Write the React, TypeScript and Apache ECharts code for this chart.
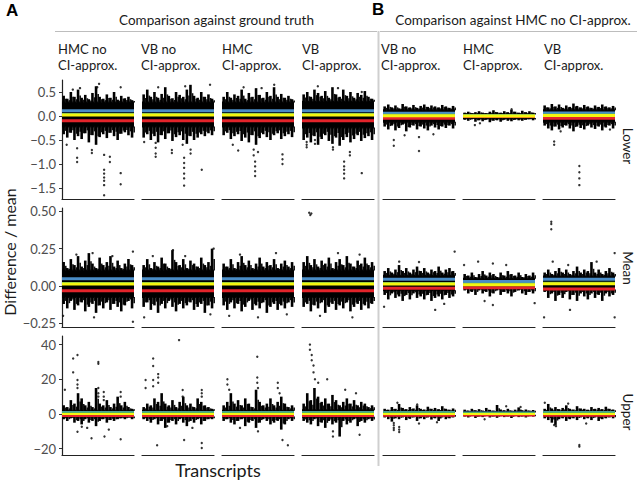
import React, { useEffect, useRef } from 'react';
import * as echarts from 'echarts';

// ---------- data ----------
const columnTitles: string[] = [
  'HMC no\nCI-approx.',
  'VB no\nCI-approx.',
  'HMC\nCI-approx.',
  'VB\nCI-approx.',
  'VB no\nCI-approx.',
  'HMC\nCI-approx.',
  'VB\nCI-approx.',
];
const rowNames = ['Lower', 'Mean', 'Upper'];
const lowerTicks = [0.5, 0, -0.5, -1, -1.5];
const meanTicks = [0.5, 0.25, 0, -0.25];
const upperTicks = [40, 20, 0, -20];

// solid core of the point cloud per panel: [bottom, top]
const lowerCore = [[-0.24, 0.3], [-0.24, 0.3], [-0.24, 0.3], [-0.26, 0.32], [-0.14, 0.14], [-0.06, 0.05], [-0.14, 0.14]];
const meanCore = [[-0.08, 0.11], [-0.08, 0.11], [-0.08, 0.11], [-0.08, 0.11], [-0.035, 0.075], [-0.02, 0.055], [-0.03, 0.07]];
const upperCore = [[-2, 2.5], [-2, 2.5], [-2, 2.5], [-2.2, 2.8], [-1.2, 1.8], [-1, 1.4], [-1.2, 1.8]];

// streaks of points above / below the core (20 bins per panel)
const lowerTop = [
  [0.42, 0.36, 0.5, 0.4, 0.55, 0.38, 0.44, 0.35, 0.48, 0.62, 0.4, 0.36, 0.45, 0.38, 0.5, 0.34, 0.42, 0.37, 0.4, 0.33],
  [0.45, 0.55, 0.4, 0.5, 0.38, 0.46, 0.6, 0.42, 0.37, 0.5, 0.44, 0.4, 0.55, 0.65, 0.42, 0.38, 0.5, 0.4, 0.45, 0.36],
  [0.4, 0.5, 0.38, 0.45, 0.42, 0.55, 0.36, 0.48, 0.4, 0.58, 0.44, 0.38, 0.5, 0.42, 0.6, 0.4, 0.46, 0.38, 0.42, 0.35],
  [0.45, 0.5, 0.4, 0.55, 0.48, 0.42, 0.52, 0.38, 0.6, 0.45, 0.4, 0.55, 0.42, 0.5, 0.38, 0.48, 0.44, 0.52, 0.4, 0.36],
  [0.2, 0.24, 0.18, 0.22, 0.16, 0.25, 0.2, 0.18, 0.23, 0.17, 0.21, 0.24, 0.19, 0.22, 0.2, 0.18, 0.23, 0.2, 0.17, 0.21],
  [0.07, 0.09, 0.06, 0.08, 0.1, 0.07, 0.06, 0.09, 0.12, 0.08, 0.07, 0.1, 0.08, 0.13, 0.09, 0.07, 0.11, 0.08, 0.1, 0.07],
  [0.22, 0.18, 0.25, 0.2, 0.24, 0.17, 0.22, 0.19, 0.26, 0.21, 0.18, 0.23, 0.2, 0.17, 0.22, 0.19, 0.24, 0.2, 0.18, 0.21],
];
const lowerBot = [
  [-0.38, -0.45, -0.35, -0.5, -0.42, -0.48, -0.36, -0.55, -0.4, -0.6, -0.44, -0.38, -0.46, -0.35, -0.42, -0.5, -0.37, -0.34, -0.4, -0.45],
  [-0.45, -0.38, -0.5, -0.42, -0.55, -0.4, -0.48, -0.36, -0.52, -0.44, -0.4, -0.5, -0.58, -0.42, -0.5, -0.45, -0.38, -0.42, -0.36, -0.4],
  [-0.4, -0.35, -0.48, -0.42, -0.38, -0.52, -0.45, -0.55, -0.4, -0.6, -0.46, -0.38, -0.44, -0.5, -0.4, -0.36, -0.48, -0.42, -0.38, -0.44],
  [-0.5, -0.45, -0.55, -0.42, -0.6, -0.48, -0.4, -0.52, -0.58, -0.45, -0.62, -0.5, -0.44, -0.55, -0.48, -0.4, -0.52, -0.46, -0.42, -0.5],
  [-0.22, -0.28, -0.2, -0.3, -0.25, -0.18, -0.32, -0.24, -0.2, -0.28, -0.22, -0.26, -0.3, -0.2, -0.24, -0.28, -0.22, -0.25, -0.2, -0.26],
  [-0.08, -0.1, -0.07, -0.12, -0.09, -0.11, -0.08, -0.13, -0.1, -0.09, -0.12, -0.08, -0.1, -0.11, -0.08, -0.09, -0.1, -0.08, -0.07, -0.09],
  [-0.2, -0.26, -0.3, -0.22, -0.28, -0.24, -0.2, -0.26, -0.32, -0.22, -0.25, -0.28, -0.2, -0.24, -0.27, -0.22, -0.3, -0.24, -0.2, -0.26],
];
const meanTop = [
  [0.16, 0.12, 0.18, 0.14, 0.2, 0.13, 0.17, 0.22, 0.15, 0.12, 0.19, 0.14, 0.16, 0.2, 0.13, 0.17, 0.12, 0.15, 0.18, 0.14],
  [0.14, 0.18, 0.12, 0.16, 0.13, 0.19, 0.15, 0.12, 0.24, 0.16, 0.14, 0.18, 0.12, 0.17, 0.15, 0.13, 0.19, 0.14, 0.16, 0.25],
  [0.15, 0.13, 0.18, 0.12, 0.16, 0.2, 0.14, 0.17, 0.12, 0.15, 0.19, 0.13, 0.16, 0.14, 0.18, 0.12, 0.15, 0.17, 0.13, 0.16],
  [0.16, 0.2, 0.14, 0.18, 0.13, 0.17, 0.15, 0.19, 0.12, 0.16, 0.18, 0.14, 0.2, 0.15, 0.13, 0.17, 0.15, 0.19, 0.14, 0.16],
  [0.1, 0.12, 0.09, 0.11, 0.14, 0.1, 0.12, 0.09, 0.11, 0.13, 0.1, 0.12, 0.09, 0.11, 0.1, 0.13, 0.09, 0.11, 0.12, 0.1],
  [0.08, 0.07, 0.09, 0.06, 0.08, 0.1, 0.07, 0.09, 0.08, 0.06, 0.09, 0.07, 0.1, 0.08, 0.07, 0.09, 0.06, 0.08, 0.07, 0.09],
  [0.09, 0.11, 0.08, 0.1, 0.12, 0.09, 0.11, 0.08, 0.1, 0.13, 0.09, 0.11, 0.1, 0.16, 0.09, 0.11, 0.08, 0.1, 0.12, 0.09],
];
const meanBot = [
  [-0.12, -0.15, -0.1, -0.16, -0.13, -0.11, -0.17, -0.14, -0.12, -0.18, -0.13, -0.15, -0.11, -0.16, -0.12, -0.14, -0.17, -0.13, -0.1, -0.15],
  [-0.14, -0.11, -0.16, -0.13, -0.18, -0.12, -0.15, -0.1, -0.14, -0.17, -0.12, -0.15, -0.13, -0.11, -0.16, -0.14, -0.12, -0.18, -0.13, -0.15],
  [-0.13, -0.16, -0.11, -0.15, -0.12, -0.17, -0.14, -0.1, -0.16, -0.13, -0.15, -0.11, -0.18, -0.14, -0.12, -0.16, -0.13, -0.15, -0.11, -0.14],
  [-0.14, -0.12, -0.17, -0.13, -0.15, -0.11, -0.18, -0.14, -0.12, -0.16, -0.13, -0.15, -0.11, -0.17, -0.14, -0.12, -0.16, -0.13, -0.15, -0.12],
  [-0.06, -0.09, -0.05, -0.08, -0.07, -0.1, -0.06, -0.09, -0.05, -0.08, -0.07, -0.09, -0.06, -0.1, -0.08, -0.07, -0.09, -0.06, -0.08, -0.07],
  [-0.03, -0.05, -0.04, -0.06, -0.03, -0.05, -0.04, -0.07, -0.05, -0.03, -0.06, -0.04, -0.05, -0.07, -0.04, -0.03, -0.05, -0.06, -0.04, -0.05],
  [-0.04, -0.08, -0.05, -0.1, -0.06, -0.08, -0.04, -0.09, -0.06, -0.1, -0.05, -0.07, -0.09, -0.05, -0.08, -0.06, -0.1, -0.05, -0.07, -0.06],
];
const upperTop = [
  [5, 4, 8, 6, 12, 9, 5, 7, 4, 15, 6, 5, 8, 4, 6, 10, 5, 7, 4, 3],
  [4, 6, 5, 9, 7, 12, 6, 5, 8, 4, 7, 10, 5, 6, 4, 9, 7, 5, 4, 3],
  [5, 7, 12, 6, 8, 5, 9, 6, 4, 14, 7, 5, 6, 9, 5, 7, 10, 6, 4, 5],
  [6, 12, 8, 15, 10, 7, 9, 6, 11, 8, 5, 7, 9, 6, 8, 5, 7, 6, 4, 5],
  [3, 2.5, 4, 3, 5.8, 3.5, 2.8, 4, 3.2, 5, 3, 2.6, 4.2, 3, 3.5, 2.8, 4.5, 3, 2.5, 3.2],
  [2.5, 2, 3, 2.2, 2.8, 2, 3.5, 2.4, 2, 5.2, 2.6, 2.2, 3, 2, 2.5, 3.8, 2.2, 2.6, 2, 2.3],
  [3, 5.8, 3.2, 4, 2.8, 3.5, 5, 3, 2.6, 4.5, 3.2, 3, 2.5, 4, 3, 3.5, 2.8, 4.2, 3, 2.6],
];
const upperBot = [
  [-3, -4, -2.5, -5, -4, -6, -3, -5, -4, -7, -4, -3, -5, -3.5, -4, -3, -2.5, -3, -2, -3],
  [-3, -4, -5, -3, -6, -4, -8, -5, -4, -6, -3, -5, -7, -4, -5, -3, -6, -4, -3, -3],
  [-4, -3, -5, -6, -4, -3, -7, -5, -4, -8, -5, -3, -4, -6, -5, -4, -9, -6, -3, -4],
  [-4, -5, -6, -3, -7, -5, -8, -4, -6, -5, -13, -4, -6, -5, -3, -7, -4, -5, -3, -4],
  [-2, -3, -4.4, -2.5, -3, -2, -3.5, -2.8, -2, -4, -2.5, -3, -2, -3.2, -2.5, -4, -2, -3, -2.5, -2],
  [-1.5, -2, -1.2, -2.3, -1.5, -1.8, -1.2, -2, -1.5, -2.2, -1.3, -1.8, -1.5, -2.3, -1.2, -1.8, -1.5, -2, -1.3, -1.5],
  [-2.5, -3.5, -5, -6.3, -3, -2.5, -4, -3, -2.5, -3.5, -2, -3, -2.5, -3.5, -2, -4, -3, -2.5, -2, -2.5],
];

// individual outlying transcripts: [bin position, value]
const lowerOut: number[][][] = [
  [[1.3, -0.6], [4.2, -0.67], [4.2, -0.87], [4.2, -0.96], [8.3, -0.71], [8.3, -0.77], [11.7, -0.81], [11.7, -1.12], [11.7, -1.2], [11.7, -1.28], [11.7, -1.35], [11.7, -1.44], [11.7, -1.65], [13.3, -0.85], [13.3, -0.96], [16.3, -1.19], [16.3, -1.42], [10.3, 0.67], [5, 0.58], [16.3, 0.6], [3, 0.55], [9.8, 0.6]],
  [[0.6, -0.54], [3.8, -0.56], [3.8, -0.66], [3.8, -0.78], [3.8, -0.85], [8.3, -0.71], [8.3, -0.77], [11.3, -0.6], [11.7, -0.87], [11.7, -0.98], [11.7, -1.08], [11.7, -1.2], [11.7, -1.3], [11.7, -1.45], [13.5, -0.7], [13.5, -0.78], [16.6, -1.12], [18.9, 0.65], [4.5, 0.6], [12, 0.62]],
  [[3, -0.6], [4.5, -0.72], [8.8, -0.7], [8.8, -0.82], [9.2, -0.95], [9.2, -1.05], [9.2, -1.15], [9.2, -1.25], [10, -0.75], [16.8, -0.8], [16.8, -0.9], [16.8, -1.0], [6, 0.6], [14.5, 0.65], [11, 0.58]],
  [[1.3, -0.54], [1.3, -0.6], [1.3, -0.65], [3.6, -0.5], [3.6, -0.58], [8.6, -0.65], [8.6, -0.7], [11.7, -0.95], [11.7, -1.05], [11.7, -1.12], [11.7, -1.2], [11.7, -1.3], [13.3, -0.75], [13.3, -0.82], [16.6, -1.19], [4.4, 0.62], [16.6, 0.5], [10, 0.58]],
  [[3, -0.5], [3, -0.62], [10, -0.44], [10, -0.73], [6, -0.4], [14, -0.38]],
  [[3.3, -0.19], [4.7, -0.15], [13.5, 0.14]],
  [[3.1, -0.53], [3.1, -0.6], [10.1, -1.04], [10.1, -1.17], [10.1, -1.3], [10.1, -1.44], [4.9, -0.32], [18.6, -0.28]],
];
const meanOut: number[][][] = [
  [[0.3, -0.2], [8.9, -0.21], [19.7, -0.24], [19.7, 0.23], [8.5, 0.22], [4, 0.21], [14, 0.2]],
  [[0.6, -0.21], [19, -0.19], [8.6, 0.24], [19.9, 0.25], [3, 0.2], [12, 0.2]],
  [[2, -0.2], [10, -0.21], [15, 0.22], [5, 0.21], [18, -0.19]],
  [[2, 0.49], [2.3, 0.475], [2.6, 0.485], [10, 0.22], [16, 0.21], [5, -0.2], [14, -0.21]],
  [[4.5, 0.163], [19.9, 0.23], [0.3, -0.139], [14.5, -0.16], [10, 0.16], [17, -0.12]],
  [[0.3, 0.14], [4.2, 0.163], [8.3, 0.15], [8.3, -0.127], [19.9, -0.115], [12, 0.14], [6, -0.1]],
  [[2.3, 0.43], [2.3, 0.415], [2.3, 0.38], [2.7, 0.163], [14.9, 0.163], [0.3, -0.21], [19.9, 0.22], [19.9, -0.21], [7.5, -0.16], [7, 0.14]],
];
const upperOut: number[][][] = [
  [[0.8, 14], [3.1, 32], [3.1, 24], [4.3, 34], [4.3, 19.6], [4.3, 17], [4.3, 15], [10.1, 30], [10.1, 29], [10.1, 15], [10.1, 12], [10.1, 10], [11.6, 12.7], [11.6, 10], [11.6, 8], [16.3, 12.7], [16.3, 10], [8.2, -14], [11.8, -13], [16.3, -14.6], [4.3, -10.2], [5.5, -7.3], [7, -8], [13, -9]],
  [[10.3, 42.6], [3.1, 32], [3.1, 27.7], [3.1, 19.6], [3.1, 16], [4.5, 23], [4.5, 21], [4.5, 18], [1, 19.6], [1, 15], [11.3, 13.8], [11.3, 10], [16.6, 13.8], [16.6, 12], [16.6, 10], [4.2, -18], [11.7, -15], [16.6, -16.7], [16.6, -19.6], [7, -7], [14, -8]],
  [[1.5, 20], [1.5, 17], [2, 14], [9.8, 33], [9.8, 21], [9.8, 18], [10, 15], [15.5, 18], [15.5, 15], [16, 12], [18.3, -18], [16.8, -15], [10, -10], [5, -8]],
  [[2.2, 40], [2.2, 37], [2.7, 34], [2.7, 31], [3.2, 28], [3.2, 24], [3.6, 20], [4.5, 18], [7, 20], [8.6, -13], [8.6, -10], [16, -12], [12, 14], [15, 12]],
  [[3, -5.2], [3, -6.5], [3, -8], [3, -9.2], [4.5, -7.5], [4.5, -9], [4.5, -10.4], [10, -5.5], [15, -4.8], [4, 6.5], [9.5, 5.5]],
  [[12, 4.5], [16, 4], [6, -3]],
  [[3.1, -6.3], [3.6, -7], [10.1, -17.9], [10.1, -18.8], [0.5, 6.5], [7, 6], [12, -5.5]],
];

// reference lines per panel: [blue, green, yellow, red]
const lowerLines = [
  [0.11, 0.032, 0.02, -0.1], [0.11, 0.032, 0.02, -0.1], [0.11, 0.032, 0.02, -0.1], [0.11, 0.032, 0.02, -0.1],
  [0.056, 0.016, 0.006, -0.048], [0.012, 0.006, 0.0, -0.012], [0.06, 0.02, 0.01, -0.045],
];
const meanLines = [
  [0.049, 0.017, 0.013, -0.032], [0.049, 0.017, 0.013, -0.032], [0.049, 0.017, 0.013, -0.032], [0.049, 0.017, 0.013, -0.032],
  [0.045, 0.017, 0.013, -0.016], [0.03, 0.012, 0.008, -0.012], [0.045, 0.019, 0.015, -0.02],
];
const upperLines = [
  [1.2, 0.9, 0, -1.2], [1.2, 0.9, 0, -1.2], [1.2, 0.9, 0, -1.2], [1.2, 0.9, 0, -1.2],
  [1.1, 0.8, 0, -1.0], [0.8, 0.6, 0, -0.8], [1.1, 0.8, 0, -1.0],
];

// ---------- layout ----------
const NBINS = 20;
const colLeft = [62, 142, 222, 302, 383, 463, 543];
const rowTop = [80, 208, 336];
const PW = 72;
const PH = 119;
const yMin = [-1.729, -0.2746, -23.63];
const yMax = [0.75, 0.522, 44.96];
const lineColors = ['#4a8cc6', '#4fb06a', '#f5f510', '#e3242b'];
const FONT = 'Lato, "Open Sans", sans-serif';

const fmt = (r: number) => (v: number) => {
  let s = r === 0 ? v.toFixed(1) : r === 1 ? v.toFixed(2) : String(Math.round(v));
  if (v < 0) s = '\u2212' + s.replace('-', '');
  return s;
};

function buildOption() {
  const cores = [lowerCore, meanCore, upperCore];
  const tops = [lowerTop, meanTop, upperTop];
  const bots = [lowerBot, meanBot, upperBot];
  const outs = [lowerOut, meanOut, upperOut];
  const lines = [lowerLines, meanLines, upperLines];
  const ticks = [lowerTicks, meanTicks, upperTicks];
  const grid: any[] = [];
  const xAxis: any[] = [];
  const yAxis: any[] = [];
  const series: any[] = [];
  let idx = 0;
  for (let r = 0; r < 3; r++) {
    for (let c = 0; c < 7; c++) {
      grid.push({ left: colLeft[c], top: rowTop[r], width: PW, height: PH });
      xAxis.push({
        gridIndex: idx, type: 'value', min: 0, max: NBINS,
        axisLine: { show: true, onZero: false, lineStyle: { color: '#222', width: 1.2 } },
        axisTick: { show: false }, axisLabel: { show: false }, splitLine: { show: false },
      });
      const first = c === 0;
      yAxis.push({
        gridIndex: idx, type: 'value', min: yMin[r], max: yMax[r],
        show: first,
        axisLine: { show: first, lineStyle: { color: '#222', width: 1.2 } },
        axisTick: { show: first, length: 3, lineStyle: { color: '#333' }, customValues: ticks[r] },
        axisLabel: {
          show: first, customValues: ticks[r], formatter: fmt(r), color: '#4d4d4d',
          fontSize: 13, fontFamily: FONT, margin: 6,
        },
        splitLine: { show: false },
      });
      const core = cores[r][c];
      const top = tops[r][c];
      const bot = bots[r][c];
      // solid core
      series.push({
        type: 'custom', xAxisIndex: idx, yAxisIndex: idx, silent: true,
        data: [[0, core[0], core[1]]],
        renderItem: (params: any, api: any) => {
          const p1 = api.coord([0, api.value(2)]);
          const p2 = api.coord([NBINS, api.value(1)]);
          return { type: 'rect', shape: { x: p1[0], y: p1[1], width: p2[0] - p1[0], height: p2[1] - p1[1] }, style: { fill: '#000' } };
        },
      });
      // streaks
      series.push({
        type: 'custom', xAxisIndex: idx, yAxisIndex: idx, silent: true,
        data: top.map((t, i) => [i, bot[i], t, core[0], core[1]]),
        renderItem: (params: any, api: any) => {
          const x = api.value(0);
          const a = api.coord([x + 0.1, api.value(2)]);
          const b = api.coord([x + 0.1, api.value(4)]);
          const c2 = api.coord([x + 0.1, api.value(3)]);
          const d = api.coord([x + 0.1, api.value(1)]);
          const w = api.size([0.72, 0])[0];
          const w2 = api.size([0.45, 0])[0];
          return {
            type: 'group',
            children: [
              { type: 'rect', shape: { x: a[0], y: a[1], width: w, height: b[1] - a[1] + 1 }, style: { fill: '#000' } },
              { type: 'rect', shape: { x: a[0] + w, y: (a[1] + b[1]) / 2, width: w2, height: b[1] - (a[1] + b[1]) / 2 + 1 }, style: { fill: '#111' } },
              { type: 'rect', shape: { x: c2[0], y: c2[1] - 1, width: w, height: d[1] - c2[1] + 1 }, style: { fill: '#000' } },
              { type: 'rect', shape: { x: c2[0] + w, y: c2[1] - 1, width: w2, height: (d[1] - c2[1]) / 2 + 1 }, style: { fill: '#111' } },
            ],
          };
        },
      });
      series.push({
        type: 'scatter', xAxisIndex: idx, yAxisIndex: idx, silent: true,
        symbol: 'circle', symbolSize: 2.4,
        itemStyle: { color: '#111', opacity: 0.85 },
        data: outs[r][c],
      });
      const order = [0, 1, 3, 2];
      const lw = r === 2 ? 2 : 3;
      order.forEach((k) => {
        const v = lines[r][c][k];
        series.push({
          type: 'line', xAxisIndex: idx, yAxisIndex: idx, silent: true,
          symbol: 'none', data: [[0, v], [NBINS, v]],
          lineStyle: { color: lineColors[k], width: lw },
        });
      });
      idx++;
    }
  }

  const graphic: any[] = [
    { type: 'text', x: 6, y: 2, style: { text: 'A', font: 'bold 17px "Liberation Sans", Arial, sans-serif', fill: '#000' } },
    { type: 'text', x: 372, y: 1, style: { text: 'B', font: 'bold 17px "Liberation Sans", Arial, sans-serif', fill: '#000' } },
    { type: 'text', x: 216.5, y: 20, style: { text: 'Comparison against ground truth', font: `13.5px ${FONT}`, fill: '#1a1a1a', align: 'center', verticalAlign: 'middle' } },
    { type: 'text', x: 513, y: 20, style: { text: 'Comparison against HMC no CI-approx.', font: `13.5px ${FONT}`, fill: '#1a1a1a', align: 'center', verticalAlign: 'middle' } },
    { type: 'line', shape: { x1: 55, y1: 31.5, x2: 377, y2: 31.5 }, style: { stroke: '#bdbdbd', lineWidth: 1 } },
    { type: 'line', shape: { x1: 380, y1: 31.5, x2: 637, y2: 31.5 }, style: { stroke: '#bdbdbd', lineWidth: 1 } },
    { type: 'line', shape: { x1: 378.5, y1: 31, x2: 378.5, y2: 466 }, style: { stroke: '#cfcfcf', lineWidth: 2 } },
    { type: 'text', x: 218, y: 470, style: { text: 'Transcripts', font: `18px ${FONT}`, fill: '#1a1a1a', align: 'center', verticalAlign: 'middle' } },
    { type: 'text', x: 9, y: 252, rotation: Math.PI / 2, style: { text: 'Difference / mean', font: `16px ${FONT}`, fill: '#1a1a1a', align: 'center', verticalAlign: 'middle' } },
  ];
  const headerX = [58, 141, 222, 302, 381, 463, 544];
  columnTitles.forEach((t, c) => {
    graphic.push({ type: 'text', x: headerX[c], y: 56.75, style: { text: t, font: `13px ${FONT}`, lineHeight: 16.5, fill: '#1a1a1a', align: 'left', verticalAlign: 'middle' } });
  });
  const rowLabelY = [146, 268, 412];
  rowNames.forEach((n, r) => {
    graphic.push({ type: 'text', x: 628, y: rowLabelY[r], rotation: -Math.PI / 2, style: { text: n, font: `13.5px ${FONT}`, fill: '#1a1a1a', align: 'center', verticalAlign: 'middle' } });
  });

  return { animation: false, backgroundColor: '#fff', grid, xAxis, yAxis, series, graphic };
}

export default function App() {
  const ref = useRef<HTMLDivElement>(null);
  useEffect(() => {
    document.body.style.margin = '0';
    if (!ref.current) return;
    const chart = echarts.init(ref.current, undefined, { renderer: 'svg' });
    chart.setOption(buildOption() as any);
    return () => chart.dispose();
  }, []);
  return <div ref={ref} style={{ position: 'absolute', left: 0, top: 0, width: 638, height: 482 }} />;
}
